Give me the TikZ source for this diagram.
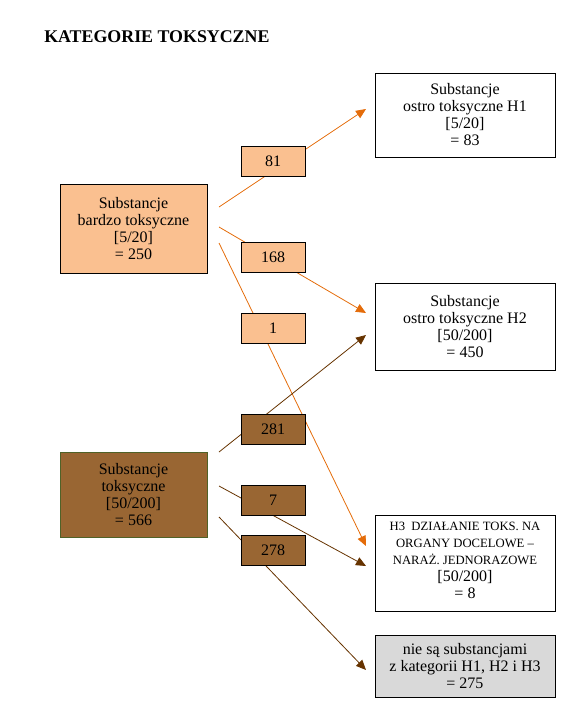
\documentclass[tikz,border=0pt]{standalone}
\usepackage{fontspec}
\setmainfont{Liberation Serif}
\usetikzlibrary{arrows.meta}

\definecolor{jasny}{HTML}{FAC090}
\definecolor{braz}{HTML}{996633}
\definecolor{ramka}{HTML}{4F6228}
\definecolor{pomar}{HTML}{E46C0A}
\definecolor{ciemny}{HTML}{663300}
\definecolor{szary}{HTML}{D9D9D9}

\tikzset{
  box/.style={draw, align=center, inner sep=2pt, font=\fontsize{12}{12.75}\selectfont},
  bigbox/.style={box, minimum width=110.25pt},
  wynik/.style={box, fill=white, minimum width=135pt},
  liczba/.style={box, minimum width=48pt, minimum height=22.5pt},
  orline/.style={pomar, line width=0.6pt},
  brline/.style={ciemny, line width=0.6pt},
  grot/.style={-{Triangle[length=7.5pt, width=6.5pt]}}
}
\newcommand{\drobne}{\fontsize{9.5}{10.5}\selectfont}
\newcommand{\zwykle}{\fontsize{12}{12.75}\selectfont}

\begin{document}
\begin{tikzpicture}[x=0.75pt, y=-0.75pt]
		\useasboundingbox (0,0) rectangle (564,718);
		\node[anchor=west, inner sep=0pt, font=\fontsize{13.4}{14}\selectfont\bfseries] (title) at (44,37) {KATEGORIE TOKSYCZNE};
		% left boxes
		\node[bigbox, fill=jasny, minimum height=66.75pt] (A) at (133.5,228.5) {Substancje\\bardzo toksyczne\\{[5/20]}\\= 250};
		\node[bigbox, fill=braz, draw=ramka, minimum height=63.75pt] (B) at (133.5,494.5) {Substancje\\toksyczne\\{[50/200]}\\= 566};
		% right boxes
		\node[wynik, minimum height=63pt] (H1) at (465,115) {Substancje\\ostro toksyczne H1\\{[5/20]}\\= 83};
		\node[wynik, minimum height=65.25pt] (H2) at (465,326.5) {Substancje\\ostro toksyczne H2\\{[50/200]}\\= 450};
		\node[wynik, minimum height=72pt, text depth=4pt] (H3) at (465,563) {\drobne H3\ \ DZIAŁANIE TOKS. NA\\\drobne ORGANY DOCELOWE --\\\drobne NARAŻ. JEDNORAZOWE\\\zwykle {[50/200]}\\\zwykle = 8};
		\node[wynik, fill=szary, minimum height=46.5pt] (nie) at (465,666) {nie są substancjami\\z kategorii H1, H2 i H3\\= 275};
		% connectors
		\coordinate (a1) at (219,207);
		\coordinate (a2) at (219,227);
		\coordinate (a3) at (219,243);
		\coordinate (b1) at (219,452);
		\coordinate (b2) at (219,486);
		\coordinate (b3) at (219,517);
		\coordinate (h1a) at (366,109);
		\coordinate (h2a) at (366,313);
		\coordinate (h2b) at (366,335);
		\coordinate (h3a) at (366,546);
		\coordinate (h3b) at (366,566);
		\coordinate (niea) at (366,670);
		\draw[orline, grot] (a1) -- (h1a);
		\draw[orline, grot] (a2) -- (h2a);
		\draw[orline, grot] (a3) -- (h3a);
		\draw[brline, grot] (b1) -- (h2b);
		\draw[brline, grot] (b2) -- (h3b);
		\draw[brline, grot] (b3) -- (niea);
		% numbers
		\node[liczba, fill=jasny] (n81) at (273,161) {81};
		\node[liczba, fill=jasny] (n168) at (273,257.5) {168};
		\node[liczba, fill=jasny] (n1) at (273,328) {1};
		\node[liczba, fill=braz] (n281) at (273,429.5) {281};
		\node[liczba, fill=braz] (n7) at (273,500) {7};
		\node[liczba, fill=braz] (n278) at (273,550) {278};
\end{tikzpicture}
\end{document}
